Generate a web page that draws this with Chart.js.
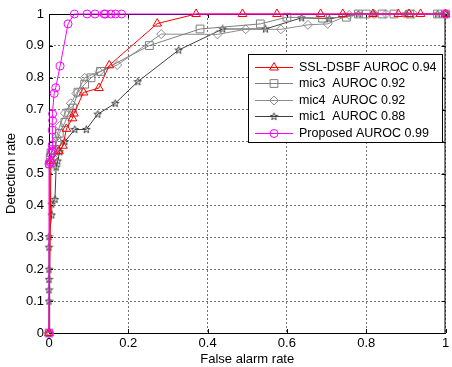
<!DOCTYPE html>
<html>
<head>
<meta charset="utf-8">
<script src="https://cdn.jsdelivr.net/npm/chart.js@4.4.0/dist/chart.umd.min.js"></script>
<style>
	html, body { margin: 0; padding: 0; background: #fff; }
	#rocChart { display: block; }
</style>
</head>
<body>
<canvas id="rocChart" width="452" height="367"></canvas>
<script>
// tick values
const xTicks = [0, 0.2, 0.4, 0.6, 0.8, 1];
const yTicks = [0, 0.1, 0.2, 0.3, 0.4, 0.5, 0.6, 0.7, 0.8, 0.9, 1];

const xTitle = 'False alarm rate';
const yTitle = 'Detection rate';

const seriesNames = [
	'SSL-DSBF AUROC 0.94',
	'mic3  AUROC 0.92',
	'mic4  AUROC 0.92',
	'mic1  AUROC 0.88',
	'Proposed AUROC 0.99'
];

// SSL-DSBF
const sslX = [0, 0.005, 0.025, 0.035, 0.044, 0.059, 0.063, 0.087, 0.126, 0.152, 0.273, 0.371, 0.488, 0.575, 0.685, 0.741, 0.817, 0.881, 0.908, 0.937, 1];
const sslY = [0, 0.54, 0.57, 0.587, 0.64, 0.673, 0.688, 0.754, 0.768, 0.839, 0.97, 1, 1, 1, 1, 1, 1, 1, 1, 1, 1];

// mic3
const mic3X = [0, 0.002, 0.003, 0.005, 0.01, 0.02, 0.026, 0.04, 0.05, 0.06, 0.073, 0.09, 0.106, 0.13, 0.253, 0.381, 0.533, 0.6, 0.69, 0.75, 0.78, 0.8, 0.84, 0.87, 0.91, 0.98, 1];
const mic3Y = [0, 0.53, 0.55, 0.565, 0.575, 0.6, 0.626, 0.66, 0.69, 0.705, 0.755, 0.78, 0.8, 0.82, 0.901, 0.953, 0.969, 0.99, 0.987, 0.99, 1, 1, 1, 1, 1, 1, 1];

// mic4
const mic4X = [0, 0.003, 0.01, 0.015, 0.019, 0.027, 0.04, 0.055, 0.069, 0.09, 0.127, 0.172, 0.283, 0.425, 0.496, 0.585, 0.653, 0.703, 0.757, 0.82, 0.85, 0.92, 1];
const mic4Y = [0, 0.53, 0.55, 0.575, 0.615, 0.649, 0.689, 0.72, 0.751, 0.8, 0.819, 0.84, 0.937, 0.936, 0.952, 0.952, 0.966, 0.969, 0.997, 1, 1, 1, 1];

// mic1
const mic1X = [0, 0, 0, 0, 0, 0, 0, 0.007, 0.007, 0.015, 0.018, 0.022, 0.027, 0.04, 0.065, 0.094, 0.123, 0.167, 0.224, 0.327, 0.438, 0.546, 0.637, 0.707, 0.78, 0.82, 0.9, 0.98, 1];
const mic1Y = [0, 0.1, 0.135, 0.168, 0.2, 0.269, 0.302, 0.37, 0.404, 0.419, 0.52, 0.539, 0.568, 0.6, 0.638, 0.638, 0.686, 0.72, 0.788, 0.887, 0.953, 0.953, 0.988, 0.985, 1, 1, 1, 1, 1];

// Proposed
const propX = [0, 0, 0.003, 0.006, 0.008, 0.008, 0.008, 0.009, 0.009, 0.013, 0.017, 0.028, 0.048, 0.064, 0.096, 0.116, 0.139, 0.142, 0.156, 0.168, 0.183, 1];
const propY = [0, 0.53, 0.537, 0.563, 0.571, 0.589, 0.636, 0.666, 0.687, 0.751, 0.769, 0.837, 0.969, 1, 1, 1, 1, 1, 1, 1, 1, 1];

function toPoints(xs, ys) {
	return xs.map(function(x, i) { return { x: x, y: ys[i] }; });
}

function makeStar(color) {
	const c = document.createElement('canvas');
	c.width = 9;
	c.height = 9;
	const g = c.getContext('2d');
	g.strokeStyle = color;
	g.lineWidth = 1;
	g.beginPath();
	for (let i = 0; i < 10; i++) {
		const r = i % 2 === 0 ? 3.9 : 1.6;
		const a = -Math.PI / 2 + i * Math.PI / 5;
		const px = 4.5 + r * Math.cos(a);
		const py = 4.7 + r * Math.sin(a);
		if (i === 0) g.moveTo(px, py); else g.lineTo(px, py);
	}
	g.closePath();
	g.stroke();
	return c;
}

function series(label, xs, ys, color, style, radius, order) {
	return {
		label: label,
		data: toPoints(xs, ys),
		showLine: true,
		borderColor: color,
		backgroundColor: 'rgba(0,0,0,0)',
		borderWidth: 1,
		pointStyle: style,
		pointRadius: radius,
		pointHoverRadius: radius,
		pointBorderColor: color,
		pointBackgroundColor: 'rgba(0,0,0,0)',
		pointBorderWidth: 1,
		clip: false,
		order: order
	};
}

// box around plot + inner ticks
const frame = {
	id: 'frame',
	beforeDatasetsDraw(chart) {
		const ctx = chart.ctx;
		const a = chart.chartArea;
		const xs = chart.scales.x;
		const ys = chart.scales.y;
		ctx.save();
		ctx.strokeStyle = '#000';
		ctx.lineWidth = 1;
		ctx.beginPath();
		ctx.moveTo(a.left, a.top + 0.5);
		ctx.lineTo(a.right, a.top + 0.5);
		ctx.moveTo(a.right - 0.5, a.top);
		ctx.lineTo(a.right - 0.5, a.bottom);
		xTicks.forEach(function(v) {
			const px = Math.round(xs.getPixelForValue(v)) + 0.5;
			ctx.moveTo(px, a.bottom);
			ctx.lineTo(px, a.bottom - 4);
			ctx.moveTo(px, a.top);
			ctx.lineTo(px, a.top + 4);
		});
		yTicks.forEach(function(v) {
			const py = Math.round(ys.getPixelForValue(v)) + 0.5;
			ctx.moveTo(a.left, py);
			ctx.lineTo(a.left + 4, py);
			ctx.moveTo(a.right, py);
			ctx.lineTo(a.right - 4, py);
		});
		ctx.stroke();
		ctx.restore();
	}
};

// legend drawn inside the plot
const legendBox = {
	id: 'legendBox',
	afterDraw(chart) {
		const ctx = chart.ctx;
		const left = 248.5, top = 54.5, w = 194, h = 88;
		ctx.save();
		ctx.fillStyle = '#fff';
		ctx.fillRect(left, top, w, h);
		ctx.strokeStyle = '#000';
		ctx.lineWidth = 1;
		ctx.strokeRect(left, top, w, h);
		ctx.font = '12.5px "Liberation Sans", Arial, sans-serif';
		ctx.textBaseline = 'middle';
		chart.data.datasets.forEach(function(ds, i) {
			const y = Math.round(top + 12 + i * 16.6) + 0.5;
			ctx.strokeStyle = ds.borderColor;
			ctx.lineWidth = 1;
			ctx.beginPath();
			ctx.moveTo(255, y);
			ctx.lineTo(293, y);
			ctx.stroke();
			ctx.fillStyle = 'rgba(0,0,0,0)';
			Chart.helpers.drawPoint(ctx, {
				pointStyle: ds.pointStyle,
				radius: ds.pointRadius,
				rotation: 0,
				borderWidth: 1
			}, 274, y);
			ctx.fillStyle = '#000';
			ctx.fillText(ds.label, 299, y + 0.5);
		});
		ctx.restore();
	}
};

Chart.defaults.font.family = '"Liberation Sans", Arial, sans-serif';
Chart.defaults.font.size = 13;
Chart.defaults.color = '#000';

const rocChart = new Chart(document.getElementById('rocChart').getContext('2d'), {
	type: 'scatter',
	data: {
		datasets: [
			series(seriesNames[0], sslX, sslY, '#ff0000', 'triangle', 5, 1),
			series(seriesNames[1], mic3X, mic3Y, '#7f7f7f', 'rect', 5.5, 2),
			series(seriesNames[2], mic4X, mic4Y, '#8c8c8c', 'rectRot', 4.5, 3),
			series(seriesNames[3], mic1X, mic1Y, '#404040', makeStar('#404040'), 4, 4),
			series(seriesNames[4], propX, propY, '#ff00ff', 'circle', 4, 0)
		]
	},
	options: {
		responsive: false,
		animation: false,
		events: [],
		layout: { padding: { top: 14, right: 1, left: 0, bottom: 0 } },
		plugins: {
			legend: { display: false },
			tooltip: { enabled: false }
		},
		scales: {
			x: {
				type: 'linear',
				min: 0,
				max: 1,
				afterBuildTicks: function(scale) {
					scale.ticks = xTicks.map(function(v) { return { value: v }; });
				},
				afterFit: function(scale) {
					scale.height = 34;
					scale.paddingLeft = 0;
					scale.paddingRight = 0;
				},
				ticks: {
					padding: 3,
					maxRotation: 0,
					callback: function(v) { return String(+v.toFixed(1)); }
				},
				grid: { color: 'rgba(0,0,0,0.55)', lineWidth: 1, drawTicks: false },
				border: { display: true, color: '#000', width: 1, dash: [2, 2] },
				title: { display: true, text: xTitle, padding: { top: 0, bottom: 0 } }
			},
			y: {
				type: 'linear',
				min: 0,
				max: 1,
				afterBuildTicks: function(scale) {
					scale.ticks = yTicks.map(function(v) { return { value: v }; });
				},
				afterFit: function(scale) {
					scale.width = 49;
					scale.paddingTop = 0;
					scale.paddingBottom = 0;
				},
				ticks: {
					padding: 5,
					callback: function(v) { return String(+v.toFixed(1)); }
				},
				grid: { color: 'rgba(0,0,0,0.55)', lineWidth: 1, drawTicks: false },
				border: { display: true, color: '#000', width: 1, dash: [2, 2] },
				title: { display: true, text: yTitle, padding: { top: 4, bottom: 4 } }
			}
		}
	},
	plugins: [frame, legendBox]
});
</script>
</body>
</html>
